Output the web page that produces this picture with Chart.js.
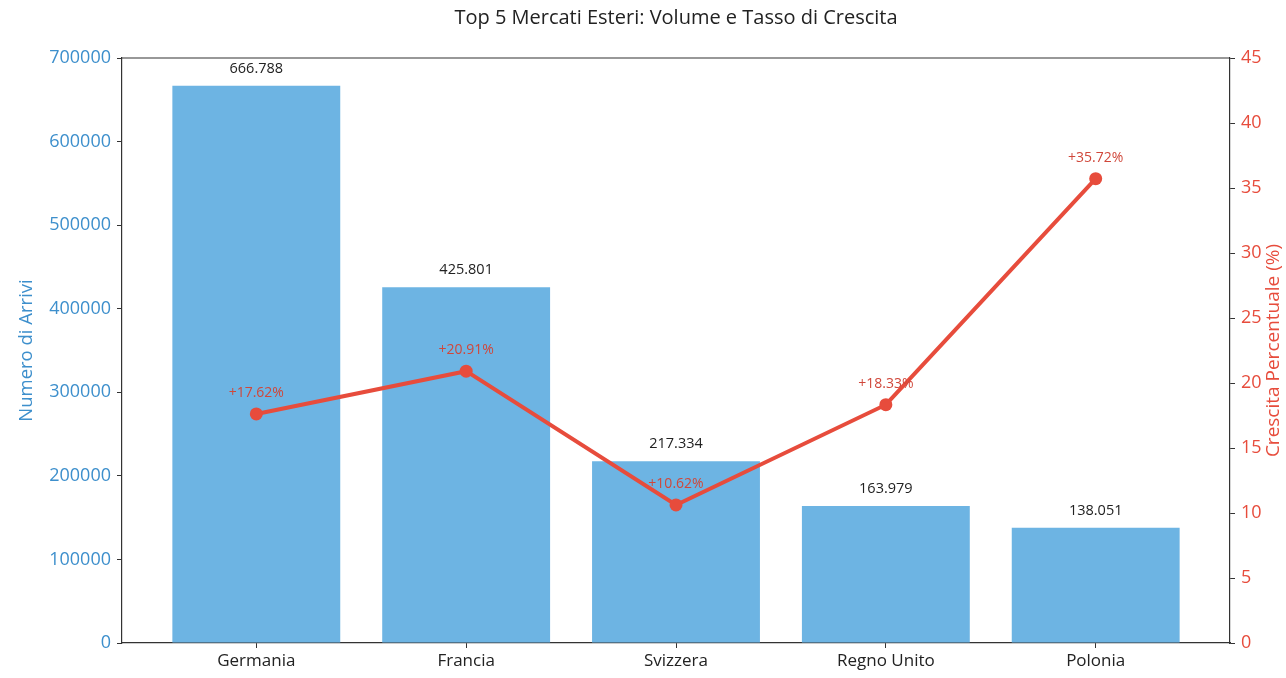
<!DOCTYPE html>
<html>
<head>
<meta charset="utf-8">
<script src="https://cdn.jsdelivr.net/npm/chart.js@4.4.1/dist/chart.umd.min.js"></script>
<style>
  html, body { margin: 0; padding: 0; background: #fff; }
  #wrap { width: 1286px; height: 678px; }
</style>
</head>
<body>
<div id="wrap"><canvas id="chart"></canvas></div>
<script>
// Data
const categories = ['Germania', 'Francia', 'Svizzera', 'Regno Unito', 'Polonia'];
const arrivals = [666788, 425801, 217334, 163979, 138051];
const growth = [17.62, 20.91, 10.62, 18.33, 35.72];
const leftTicks = [0, 100000, 200000, 300000, 400000, 500000, 600000, 700000];
const rightTicks = [0, 5, 10, 15, 20, 25, 30, 35, 40, 45];

const FONT = "'Open Sans', sans-serif";
const BLUE = '#3d8fcc';
const BAR = '#6db4e3';
const RED = '#e74c3c';
const AXIS = '#333333';

const fmtThousands = v => String(v).replace(/\B(?=(\d{3})+(?!\d))/g, '.');

// title, box frame, right axis title and value labels
const decorations = {
    id: 'decorations',
    afterDraw(chart) {
        const { ctx, chartArea } = chart;
        ctx.save();
        // top frame line
        ctx.strokeStyle = AXIS;
        ctx.lineWidth = 1.2;
        ctx.beginPath();
        ctx.moveTo(chartArea.left, chartArea.top);
        ctx.lineTo(chartArea.right, chartArea.top);
        ctx.stroke();

        // main title
        ctx.fillStyle = '#222';
        ctx.font = `20px ${FONT}`;
        ctx.textAlign = 'center';
        ctx.textBaseline = 'middle';
        ctx.fillText('Top 5 Mercati Esteri: Volume e Tasso di Crescita',
            (chartArea.left + chartArea.right) / 2, 18);

        // right axis title, reading bottom to top
        ctx.save();
        ctx.translate(1274, (chartArea.top + chartArea.bottom) / 2);
        ctx.rotate(-Math.PI / 2);
        ctx.fillStyle = RED;
        ctx.font = `19px ${FONT}`;
        ctx.fillText('Crescita Percentuale (%)', 0, 0);
        ctx.restore();

        // bar labels
        const barMeta = chart.getDatasetMeta(0);
        ctx.fillStyle = '#222';
        ctx.font = `14.5px ${FONT}`;
        barMeta.data.forEach((el, i) => {
            ctx.fillText(fmtThousands(arrivals[i]), el.x, el.y - 17);
        });

        // growth labels
        const lineMeta = chart.getDatasetMeta(1);
        ctx.fillStyle = '#d0473a';
        ctx.font = `14px ${FONT}`;
        lineMeta.data.forEach((el, i) => {
            ctx.fillText('+' + growth[i].toFixed(2) + '%', el.x, el.y - 21);
        });
        ctx.restore();
    }
};

new Chart(document.getElementById('chart'), {
    data: {
        datasets: [{
            type: 'bar',
            label: 'Numero di Arrivi',
            data: arrivals.map((v, i) => ({ x: i, y: v })),
            backgroundColor: BAR,
            borderWidth: 0,
            barPercentage: 0.8,
            categoryPercentage: 1,
            yAxisID: 'y',
            order: 2
        }, {
            type: 'line',
            label: 'Crescita Percentuale (%)',
            data: growth.map((v, i) => ({ x: i, y: v })),
            borderColor: RED,
            backgroundColor: RED,
            borderWidth: 4,
            pointRadius: 6.5,
            pointBackgroundColor: RED,
            pointBorderWidth: 0,
            tension: 0,
            yAxisID: 'y1',
            order: 1
        }]
    },
    options: {
        responsive: true,
        maintainAspectRatio: false,
        animation: false,
        layout: { padding: { top: 58, left: 0, right: 0, bottom: 0 } },
        plugins: {
            legend: { display: false },
            title: { display: false },
            tooltip: { enabled: false }
        },
        scales: {
            x: {
                type: 'linear',
                min: -0.64,
                max: 4.64,
                offset: false,
                afterBuildTicks: scale => {
                    scale.ticks = categories.map((c, i) => ({ value: i }));
                },
                afterFit: scale => { scale.height = 35; },
                ticks: {
                    callback: v => categories[v],
                    color: '#222',
                    font: { family: FONT, size: 17 },
                    padding: 3,
                    maxRotation: 0,
                    autoSkip: false
                },
                grid: {
                    display: true,
                    offset: false,
                    drawOnChartArea: false,
                    tickLength: 5,
                    tickColor: AXIS
                },
                border: { display: true, color: AXIS, width: 1.2 }
            },
            y: {
                type: 'linear',
                position: 'left',
                min: 0,
                max: 700000,
                afterBuildTicks: scale => {
                    scale.ticks = leftTicks.map(v => ({ value: v }));
                },
                afterFit: scale => { scale.width = 122; },
                ticks: {
                    callback: v => String(v),
                    color: BLUE,
                    font: { family: FONT, size: 18 },
                    padding: 6
                },
                title: {
                    display: true,
                    text: 'Numero di Arrivi',
                    color: BLUE,
                    font: { family: FONT, size: 18.5 },
                    padding: { top: 16, bottom: 0 }
                },
                grid: {
                    display: true,
                    drawOnChartArea: false,
                    tickLength: 5,
                    tickColor: AXIS
                },
                border: { display: true, color: AXIS, width: 1.2 }
            },
            y1: {
                type: 'linear',
                position: 'right',
                min: 0,
                max: 45,
                afterBuildTicks: scale => {
                    scale.ticks = rightTicks.map(v => ({ value: v }));
                },
                afterFit: scale => { scale.width = 56; },
                ticks: {
                    color: RED,
                    font: { family: FONT, size: 18 },
                    padding: 6
                },
                grid: {
                    display: true,
                    drawOnChartArea: false,
                    tickLength: 5,
                    tickColor: AXIS
                },
                border: { display: true, color: AXIS, width: 1.2 }
            }
        }
    },
    plugins: [decorations]
});
</script>
</body>
</html>
